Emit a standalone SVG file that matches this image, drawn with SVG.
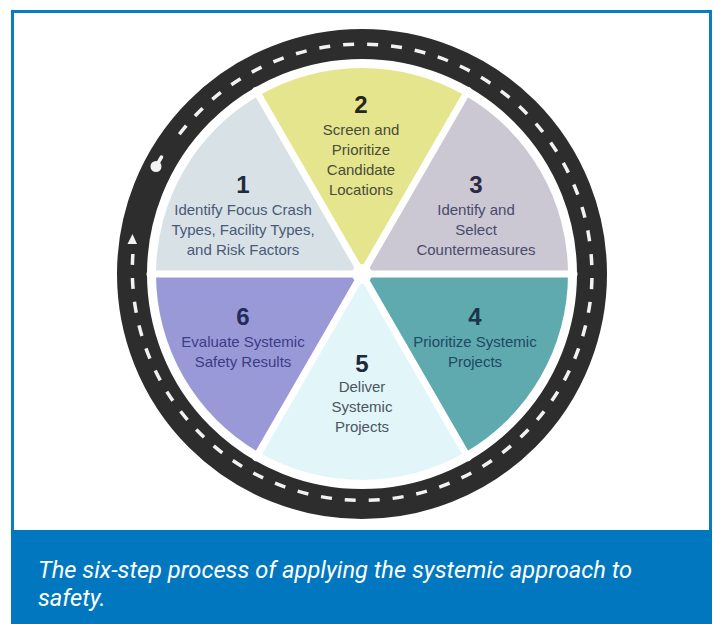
<svg xmlns="http://www.w3.org/2000/svg" width="714" height="624" viewBox="0 0 714 624">
  <style>
    .num { font-family: "Liberation Sans", Arial, sans-serif; font-weight: bold; font-size: 24px; text-anchor: middle; }
    .lbl { font-family: "Liberation Sans", Arial, sans-serif; font-size: 15px; text-anchor: middle; }
    .cap { font-family: Roboto, "Liberation Sans", sans-serif; font-style: italic; font-size: 23.7px; fill: #ffffff; }
    .sep { stroke: #ffffff; stroke-width: 7; stroke-linecap: round; }
  </style>
  <rect x="0" y="0" width="714" height="624" fill="#ffffff"/>
  <rect id="frame" x="12.5" y="11.5" width="698" height="620" fill="#ffffff" stroke="#0a7bc4" stroke-width="3"/>
  <rect id="caption-band" x="11" y="530" width="701" height="94" fill="#0077bf"/>

  <g id="road">
    <circle cx="362" cy="274" r="230" fill="none" stroke="#2d2d2d" stroke-width="30"/>
    <path d="M132.9,254 A230,230 0 0 0 591.1,294 A230,230 0 0 0 173.6,142.1" fill="none" stroke="#f2f2f2" stroke-width="3.5" stroke-dasharray="11 13"/>
    <g id="start-pin" fill="#f2f2f2">
      <circle cx="156" cy="166.5" r="5.5"/>
      <path d="M156,166.5 L161.5,157" stroke="#f2f2f2" stroke-width="3.5" stroke-linecap="round"/>
    </g>
    <path id="direction-arrow" d="M132.5,234 L137,244 L127.5,244 Z" fill="#f2f2f2"/>
  </g>

  <g id="step1">
    <path d="M362,274 L156,274 A206,206 0 0 1 259,95.6 Z" fill="#d8e2e6"/>
    <text class="num" x="243" y="193" fill="#1e2a3e">1</text>
    <text class="lbl" fill="#4a5878"><tspan x="243" y="215">Identify Focus Crash</tspan><tspan x="243" y="235">Types, Facility Types,</tspan><tspan x="243" y="255">and Risk Factors</tspan></text>
  </g>
  <g id="step2">
    <path d="M362,274 L259,95.6 A206,206 0 0 1 465,95.6 Z" fill="#e4e58c"/>
    <text class="num" x="361" y="113" fill="#26261c">2</text>
    <text class="lbl" fill="#4b4b3c"><tspan x="361" y="135">Screen and</tspan><tspan x="361" y="155">Prioritize</tspan><tspan x="361" y="175">Candidate</tspan><tspan x="361" y="195">Locations</tspan></text>
  </g>
  <g id="step3">
    <path d="M362,274 L465,95.6 A206,206 0 0 1 568,274 Z" fill="#cbc8d4"/>
    <text class="num" x="476" y="193" fill="#2a2a44">3</text>
    <text class="lbl" fill="#4a4a6c"><tspan x="476" y="215">Identify and</tspan><tspan x="476" y="235">Select</tspan><tspan x="476" y="255">Countermeasures</tspan></text>
  </g>
  <g id="step4">
    <path d="M362,274 L568,274 A206,206 0 0 1 465,452.4 Z" fill="#5eaaae"/>
    <text class="num" x="475" y="325" fill="#1c3348">4</text>
    <text class="lbl" fill="#1f4866"><tspan x="475" y="347">Prioritize Systemic</tspan><tspan x="475" y="367">Projects</tspan></text>
  </g>
  <g id="step5">
    <path d="M362,274 L465,452.4 A206,206 0 0 1 259,452.4 Z" fill="#e2f6f9"/>
    <text class="num" x="362" y="372" fill="#1e2a3a">5</text>
    <text class="lbl" fill="#4a5560"><tspan x="362" y="392">Deliver</tspan><tspan x="362" y="412">Systemic</tspan><tspan x="362" y="432">Projects</tspan></text>
  </g>
  <g id="step6">
    <path d="M362,274 L259,452.4 A206,206 0 0 1 156,274 Z" fill="#9a99d8"/>
    <text class="num" x="243" y="325" fill="#252a5c">6</text>
    <text class="lbl" fill="#3a3c86"><tspan x="243" y="347">Evaluate Systemic</tspan><tspan x="243" y="367">Safety Results</tspan></text>
  </g>

  <g id="separators">
    <line class="sep" x1="150" y1="274" x2="574" y2="274"/>
    <line class="sep" x1="256" y1="90.4" x2="468" y2="457.6"/>
    <line class="sep" x1="468" y1="90.4" x2="256" y2="457.6"/>
    <circle cx="362" cy="274" r="10" fill="#ffffff"/>
  </g>

  <text class="cap"><tspan x="38" y="578">The six-step process of applying the systemic approach to</tspan><tspan x="38" y="606">safety.</tspan></text>
</svg>
